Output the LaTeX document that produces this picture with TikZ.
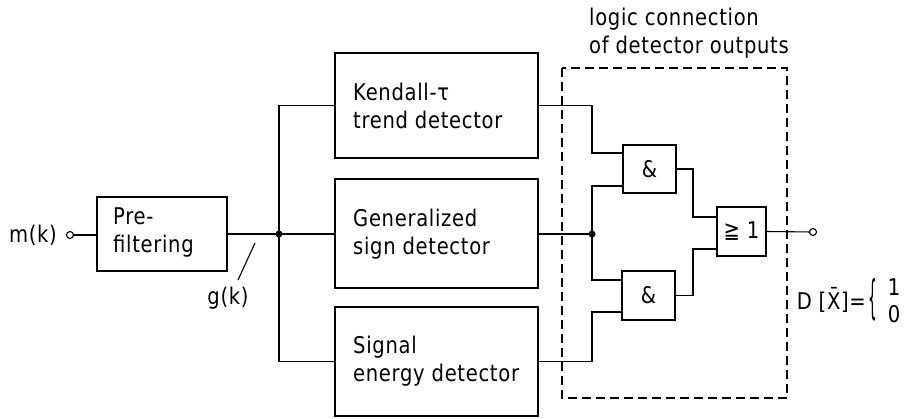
\documentclass[tikz,border=0pt]{standalone}
\usepackage{fontspec}
\setmainfont[LetterSpace=3.0, FakeStretch=0.85]{DejaVu Sans}
\usetikzlibrary{calc}
\tikzset{
  blk/.style={draw, line width=1.8pt, inner sep=0pt},
  gate/.style={draw, line width=1.8pt, font=\fontsize{23}{28}\selectfont, inner sep=0pt},
  wire/.style={line width=1.1pt},
  lbl/.style={font=\fontsize{23}{28}\selectfont, inner sep=0pt, align=left},
  dot/.style={circle, fill=black, inner sep=0pt, minimum size=7pt},
  term/.style={circle, draw, fill=white, line width=1.1pt, inner sep=0pt, minimum size=7pt},
  dashbox/.style={draw, line width=1.8pt, dash pattern=on 9pt off 5pt}
}
\begin{document}
\begin{tikzpicture}[x=1pt,y=-1pt]
\useasboundingbox (0,0) rectangle (904,418);
% blocks
\node[blk, minimum width=130pt, minimum height=74pt] (pre) at (162,234) {};
\node[blk, minimum width=203pt, minimum height=105pt] (ken) at (436.5,105.5) {};
\node[blk, minimum width=203pt, minimum height=109pt] (gen) at (436.5,233.5) {};
\node[blk, minimum width=203pt, minimum height=109pt] (sig) at (436.5,361.5) {};
\node[lbl, anchor=west] (pret) at (113,233) {Pre-\\filtering};
\node[lbl, anchor=west] (kent) at (353,106) {Kendall-τ\\trend detector};
\node[lbl, anchor=west] (gent) at (353,234) {Generalized\\sign detector};
\node[lbl, anchor=west] (sigt) at (353,361.5) {Signal\\energy detector};
% gates
\node[gate, minimum width=53pt, minimum height=48pt] (a1) at (649.5,169) {\&};
\node[gate, minimum width=53pt, minimum height=49pt] (a2) at (648.5,295.5) {\&};
\node[gate, minimum width=49pt, minimum height=49pt] (or) at (741.5,231.5) {≧ 1};
% dashed box
\draw[dashbox] (562,68) rectangle (787,398);
\node[lbl, anchor=west] (title) at (589,33) {logic connection\\of detector outputs};
% terminals and junctions
\node[term] (in) at (70,235) {};
\node[lbl, anchor=east] (mk) at (57,235) {m(k)};
\coordinate (j1) at (279,234);
\coordinate (j2) at (592,234);
\coordinate (x1) at (592,0);
\coordinate (x2) at (693,0);
\node[term] (out) at (813,232) {};
% wires
\draw[wire] (in) -- (pre.west |- in);
\draw[wire] (pre.east |- j1) -- (j1);
\draw[wire] (ken.west) -| (j1) |- (sig.west);
\draw[wire] (j1) -- (gen.west |- j1);
\draw[wire] (ken.east) -| ($(x1 |- a1.west)+(0,-16)$) -- ($(a1.west)+(0,-16)$);
\draw[wire] (gen.east |- j2) -- (j2);
\draw[wire] ($(a1.west)+(0,17)$) -| (j2) |- ($(a2.west)+(0,-15.5)$);
\draw[wire] (sig.east) -| ($(x1 |- a2.west)+(0,16.5)$) -- ($(a2.west)+(0,16.5)$);
\draw[wire] (a1.east) -| ($(x2 |- or.west)+(0,-14.5)$) -- ($(or.west)+(0,-14.5)$);
\draw[wire] (a2.east) -| ($(x2 |- or.west)+(0,17.5)$) -- ($(or.west)+(0,17.5)$);
\draw[wire] (or.east) -- (out);
\node[dot] (d1) at (j1) {};
\node[dot] (d2) at (j2) {};
% g(k)
\coordinate (s1) at (255,243);
\coordinate (s2) at (238,280);
\draw[wire] (s1) -- (s2);
\node[lbl] (gk) at (228,298) {g(k)};
% output expression
\node[lbl, anchor=east] (dx) at (866,300) {D [\=X]=};
\node[lbl, anchor=west] (br) at (868,300) {\scalebox{0.7}[2.0]{\{}};
\node[lbl, font=\fontsize{23}{27}\selectfont] (vals) at (894,300.5) {1\\0};
\end{tikzpicture}
\end{document}
